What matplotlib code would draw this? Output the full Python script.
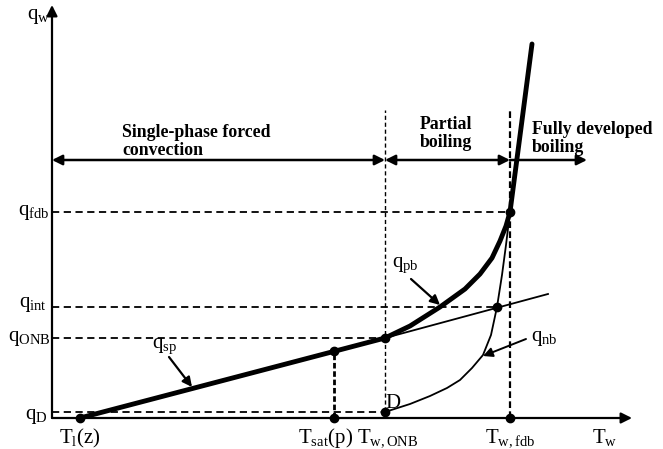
import matplotlib
matplotlib.use("Agg")
import matplotlib.pyplot as plt

plt.rcParams['font.family'] = ['Liberation Serif', 'DejaVu Serif']
plt.rcParams['mathtext.fontset'] = 'custom'
plt.rcParams['mathtext.rm'] = 'Liberation Serif'
plt.rcParams['mathtext.it'] = 'Liberation Serif'
plt.rcParams['mathtext.bf'] = 'Liberation Serif:bold'

# ---- schematic data (arbitrary units: T = wall temperature, q = heat flux) ----
T_l, T_sat, T_onb, T_int, T_fdb = 28, 282, 333, 445, 458
q_D, q_sat, q_ONB, q_int, q_fdb = 6, 67, 80, 111, 206
T_axis_end, q_axis_end = 580, 413
q_region_row = 258
q_vline_top = 308

sp_T = [T_l, T_onb]
sp_q = [0, q_ONB]
sp_ext_T = [T_onb, 496]
sp_ext_q = [q_ONB, 124]

pb_T = [333, 358, 388, 413, 428, 440, 448, 454, 458, 480]
pb_q = [80, 92, 111, 129, 144, 160, 177, 192, 206, 374]

nb_T = [333, 358, 378, 395, 408, 420, 431, 439, 445, 450, 454, 458]
nb_q = [6, 14, 22, 30, 38, 50, 63, 83, 111, 143, 173, 206]

dots_T = [T_l, T_sat, T_sat, T_onb, T_onb, T_int, T_fdb, T_fdb]
dots_q = [0, 0, q_sat, q_ONB, q_D, q_int, q_fdb, 0]

fig = plt.figure(figsize=(6.63, 4.49), dpi=100)
ax = fig.add_axes([0, 0, 1, 1])
ax.set_xlim(-52, 611)
ax.set_ylim(-31, 418)
ax.axis('off')

# axes arrows
ax.annotate('', xy=(0, q_axis_end), xytext=(0, 0),
            arrowprops=dict(arrowstyle='-|>', lw=1.6, color='black',
                            mutation_scale=16, shrinkA=0, shrinkB=0))
ax.annotate('', xy=(T_axis_end, 0), xytext=(0, 0),
            arrowprops=dict(arrowstyle='-|>', lw=1.6, color='black',
                            mutation_scale=16, shrinkA=0, shrinkB=0))

dash = dict(color='black', lw=1.3, dashes=(4, 2.5))
# horizontal dashed guides
ax.plot([0, T_fdb], [q_fdb, q_fdb], **dash)
ax.plot([0, T_int], [q_int, q_int], **dash)
ax.plot([0, T_onb], [q_ONB, q_ONB], **dash)
ax.plot([0, T_onb], [q_D, q_D], **dash)
# vertical guides
ax.plot([T_onb, T_onb], [0, q_vline_top], color='black', lw=1.0, dashes=(3, 2))
ax.plot([T_fdb, T_fdb], [0, q_vline_top], color='black', lw=1.6, dashes=(3, 1.5))
ax.plot([T_sat, T_sat], [0, q_sat], color='black', lw=2.0, dashes=(2, 1))

# curves
ax.plot(sp_T, sp_q, color='black', lw=3.5, solid_capstyle='round')
ax.plot(sp_ext_T, sp_ext_q, color='black', lw=1.3)
ax.plot(pb_T, pb_q, color='black', lw=3.5, solid_joinstyle='round', solid_capstyle='round')
ax.plot(nb_T, nb_q, color='black', lw=1.3, solid_joinstyle='round')
ax.plot(dots_T, dots_q, 'o', color='black', ms=6, zorder=5)

# region arrows
arr = dict(lw=1.8, color='black', mutation_scale=15, shrinkA=0, shrinkB=0)
ax.annotate('', xy=(0, q_region_row), xytext=(T_onb, q_region_row),
            arrowprops=dict(arrowstyle='<|-|>', **arr))
ax.annotate('', xy=(T_onb, q_region_row), xytext=(T_fdb, q_region_row),
            arrowprops=dict(arrowstyle='<|-|>', **arr))
ax.annotate('', xy=(535, q_region_row), xytext=(T_fdb, q_region_row),
            arrowprops=dict(arrowstyle='-|>', **arr))

bold = dict(fontsize=12.8, fontweight='bold', va='bottom', ha='left', linespacing=1.1)
ax.text(70, 259, 'Single-phase forced\nconvection', **bold)
ax.text(368, 267, 'Partial\nboiling', **bold)
ax.text(480, 262, 'Fully developed\nboiling', **bold)

# axis labels
fs = 15
ax.text(-13, 401, r'$\mathrm{q_{w}}$', fontsize=fs, ha='center', va='center')
ax.text(553, -19, r'$\mathrm{T_{w}}$', fontsize=fs, ha='center', va='center')
ax.text(-18, q_fdb, r'$\mathrm{q_{fdb}}$', fontsize=fs, ha='center', va='center')
ax.text(-19, q_int + 2, r'$\mathrm{q_{int}}$', fontsize=fs, ha='center', va='center')
ax.text(-23, q_ONB, r'$\mathrm{q_{ONB}}$', fontsize=fs, ha='center', va='center')
ax.text(-16, 1, r'$\mathrm{q_{D}}$', fontsize=fs, ha='center', va='center')
ax.text(T_l, -20, r'$\mathrm{T_{l}(z)}$', fontsize=fs, ha='center', va='center')
ax.text(T_sat - 8, -20, r'$\mathrm{T_{sat}(p)}$', fontsize=fs, ha='center', va='center')
ax.text(T_onb + 3, -20, r'$\mathrm{T_{w,ONB}}$', fontsize=fs, ha='center', va='center')
ax.text(T_fdb, -20, r'$\mathrm{T_{w,fdb}}$', fontsize=fs, ha='center', va='center')
ax.text(341, 15, 'D', fontsize=fs, ha='center', va='center')

# curve labels with pointers
ax.text(113, 72, r'$\mathrm{q_{sp}}$', fontsize=fs, ha='center', va='center')
ax.annotate('', xy=(140, 31), xytext=(117, 61),
            arrowprops=dict(arrowstyle='-|>', lw=1.6, color='black', mutation_scale=14,
                            shrinkA=0, shrinkB=0))
ax.text(353, 153, r'$\mathrm{q_{pb}}$', fontsize=fs, ha='center', va='center')
ax.annotate('', xy=(388, 113), xytext=(359, 139),
            arrowprops=dict(arrowstyle='-|>', lw=1.6, color='black', mutation_scale=14,
                            shrinkA=0, shrinkB=0))
ax.text(492, 80, r'$\mathrm{q_{nb}}$', fontsize=fs, ha='center', va='center')
ax.annotate('', xy=(431, 62), xytext=(474, 79),
            arrowprops=dict(arrowstyle='-|>', lw=1.4, color='black', mutation_scale=14,
                            shrinkA=0, shrinkB=0))

fig.savefig('out.png', dpi=100)
